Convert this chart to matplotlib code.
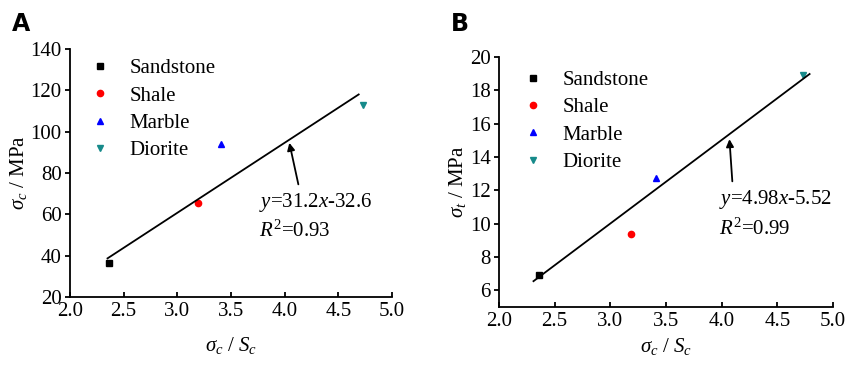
"""Two-panel scatter with linear fits: strength vs sigma_c/S_c for four rock types."""
import matplotlib
matplotlib.use("Agg")
import matplotlib.pyplot as plt

plt.rcParams["font.family"] = ["Liberation Serif", "DejaVu Serif"]
plt.rcParams["mathtext.fontset"] = "custom"
plt.rcParams["mathtext.rm"] = "Liberation Serif"
plt.rcParams["mathtext.it"] = "Liberation Serif:italic"

rocks = ["Sandstone", "Shale", "Marble", "Diorite"]
markers = ["s", "o", "^", "v"]
colors = ["black", "red", "blue", "#168a8a"]

ratio = [2.36, 3.19, 3.41, 4.73]
ucs = [36.3, 65.3, 94.0, 112.7]          # panel A, sigma_c (MPa)
uts = [6.9, 9.41, 12.74, 18.9]           # panel B, sigma_t (MPa)

fit_a_x = [2.35, 4.69]
fit_a_y = [38.7, 118.0]
fit_b_x = [2.31, 4.79]
fit_b_y = [6.55, 18.98]

eq_a = ["$y$=31.2$x$-32.6", "$R^2$=0.93"]
eq_b = ["$y$=4.98$x$-5.52", "$R^2$=0.99"]

FS = 15

fig = plt.figure(figsize=(8.46, 3.65), dpi=100)
ax_a = fig.add_axes([0.0827, 0.1863, 0.3806, 0.6795])
ax_b = fig.add_axes([0.5898, 0.1589, 0.3948, 0.6849])


def panel(ax, yvals, fx, fy, eq, ylim, yticks, ylabel, arrow_head, arrow_tail, eq_pos, leg_anchor):
    for r, m, c, x, y in zip(rocks, markers, colors, ratio, yvals):
        ax.plot([x], [y], ls="none", marker=m, color=c, markersize=4.5, label=r)
    ax.plot(fx, fy, color="black", lw=1.3)
    ax.annotate("", xy=arrow_head, xytext=arrow_tail,
                arrowprops=dict(arrowstyle="-|>", color="black", lw=1.3,
                                mutation_scale=11, shrinkA=0, shrinkB=0))
    ax.text(eq_pos[0], eq_pos[1], eq[0] + "\n" + eq[1], fontsize=FS,
            ha="left", va="top", linespacing=1.45)
    ax.set_xlim(2.0, 5.0)
    ax.set_ylim(*ylim)
    ax.set_xticks([2.0, 2.5, 3.0, 3.5, 4.0, 4.5, 5.0])
    ax.set_xticklabels(["2.0", "2.5", "3.0", "3.5", "4.0", "4.5", "5.0"])
    ax.set_yticks(yticks)
    for s in ["top", "right"]:
        ax.spines[s].set_visible(False)
    for s in ["left", "bottom"]:
        ax.spines[s].set_linewidth(1.3)
    ax.tick_params(axis="x", direction="in", length=3.5, width=1.3, labelsize=FS, pad=3.5)
    ax.tick_params(axis="y", direction="out", length=3.5, width=1.3, labelsize=FS, pad=2.5)
    ax.set_ylabel(ylabel, fontsize=FS, labelpad=1)
    ax.legend(loc="upper left", frameon=False, fontsize=FS, handletextpad=0.9,
              labelspacing=0.37, handlelength=1.0, borderaxespad=0, borderpad=0,
              bbox_to_anchor=leg_anchor)


panel(ax_a, ucs, fit_a_x, fit_a_y, eq_a, (20, 140), [20, 40, 60, 80, 100, 120, 140],
      r"$\sigma_c$ / MPa", (4.044, 94.6), (4.128, 74.5), (3.76, 71.5), (0.061, 0.96))
ax_a.set_xlabel(r"$\sigma_c$ / $S_c$", fontsize=FS, labelpad=10)

panel(ax_b, uts, fit_b_x, fit_b_y, eq_b, (5, 20), [6, 8, 10, 12, 14, 16, 18, 20],
      r"$\sigma_t$ / MPa", (4.07, 15.07), (4.096, 12.54), (3.98, 12.12), (0.071, 0.946))
ax_b.set_xlabel(r"$\sigma_c$ / $S_c$", fontsize=FS, labelpad=4)

fig.text(0.014, 0.915, "A", fontsize=17, weight="bold", family="DejaVu Sans")
fig.text(0.533, 0.915, "B", fontsize=17, weight="bold", family="DejaVu Sans")

fig.savefig("out.png", dpi=100)
